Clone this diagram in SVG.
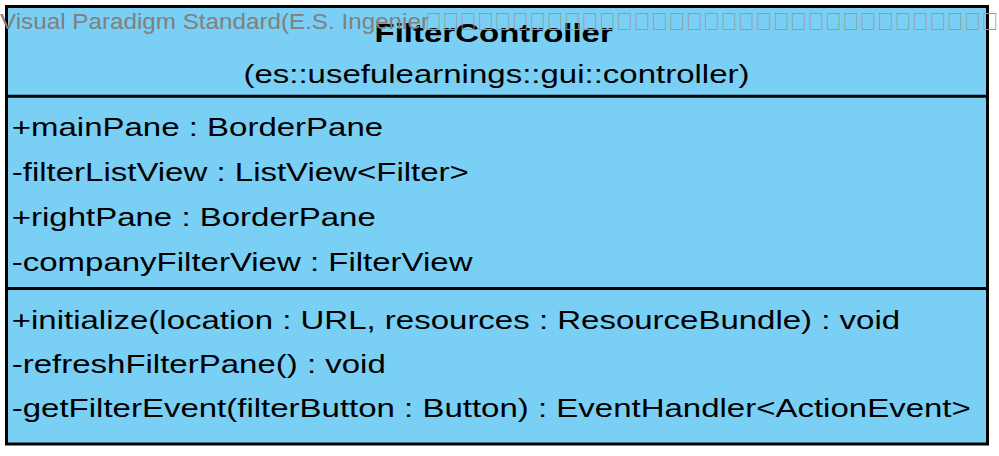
<svg xmlns="http://www.w3.org/2000/svg" width="999" height="456" viewBox="0 0 999 456">
<style>
.box{fill:#7ACFF5;stroke:#000;stroke-width:3}
.div{stroke:#000;stroke-width:3}
.t{font-family:"Liberation Sans",Arial,sans-serif;font-size:25px;fill:#000}
.b{font-weight:bold}
.wm{font-family:"Liberation Sans",Arial,sans-serif;font-size:22.5px;fill:#808080}
.tofu{font-family:"Liberation Sans","DejaVu Sans",sans-serif;font-size:29px;fill:#9a9a9a}
</style>
<rect width="999" height="456" fill="#ffffff"/>
<g id="FilterController">
<rect class="box" x="6.5" y="6.5" width="981" height="437.5"/>
<line class="div" x1="6.5" y1="96.3" x2="987.5" y2="96.3"/>
<line class="div" x1="6.5" y1="288.5" x2="987.5" y2="288.5"/>
<g transform="matrix(1.32 0 0 1 0 0)">
<text class="t b" x="374" y="41.7" text-anchor="middle">FilterController</text>
<text class="t" x="376.1" y="83.5" text-anchor="middle">(es::usefulearnings::gui::controller)</text>
<text class="t" x="8.9" y="136">+mainPane : BorderPane</text>
<text class="t" x="8.9" y="181">-filterListView : ListView&lt;Filter&gt;</text>
<text class="t" x="8.9" y="226">+rightPane : BorderPane</text>
<text class="t" x="8.9" y="271.2">-companyFilterView : FilterView</text>
<text class="t" x="8.9" y="329.3">+initialize(location : URL, resources : ResourceBundle) : void</text>
<text class="t" x="8.9" y="373.3">-refreshFilterPane() : void</text>
<text class="t" x="8.9" y="417.3">-getFilterEvent(filterButton : Button) : EventHandler&lt;ActionEvent&gt;</text>
</g>
</g>
<g id="connectors"/>
<g id="watermark">
<text class="wm" x="0" y="28.5" textLength="429" lengthAdjust="spacingAndGlyphs">Visual Paradigm Standard(E.S. Ingenier</text>
<text class="tofu" transform="matrix(0.73 0 0 1 427 0)" x="0" y="30" textLength="780" lengthAdjust="spacing">□□□□□□□□□□□□□□□□□□□□□□□□□□□□□□□□□</text>
</g>
</svg>
